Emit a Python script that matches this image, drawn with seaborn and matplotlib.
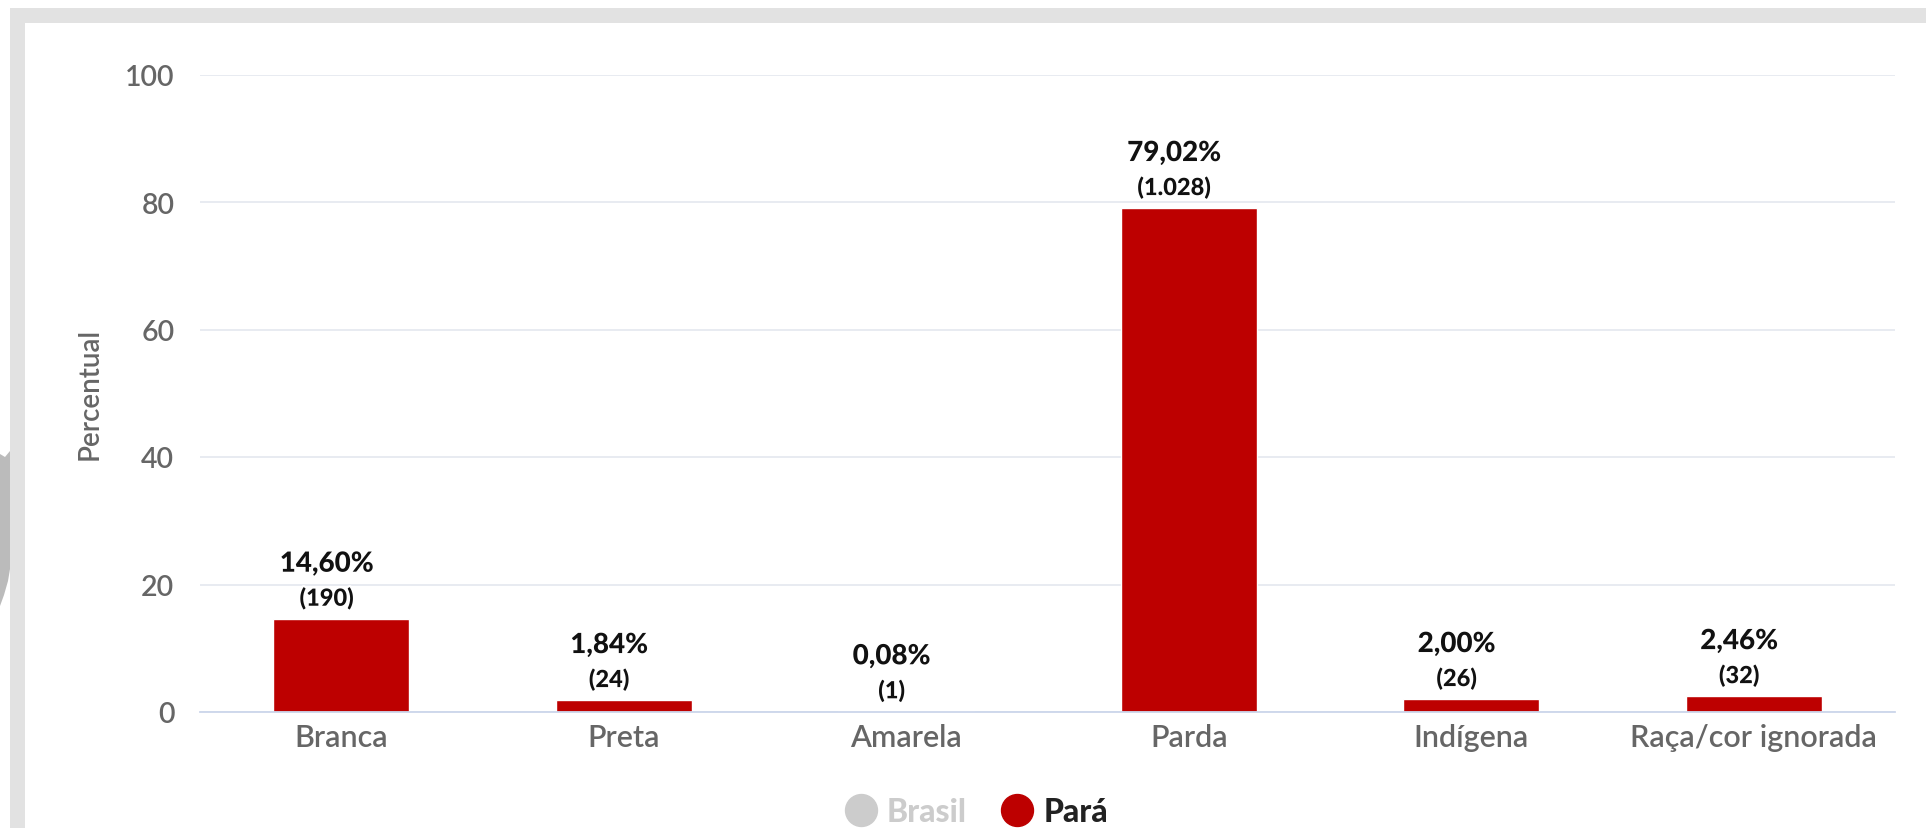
import numpy as np
import matplotlib
matplotlib.use("Agg")
import matplotlib.pyplot as plt
import matplotlib.patheffects as pe
from matplotlib.lines import Line2D
from matplotlib.patches import Rectangle, Polygon
import seaborn as sns

# Distribuição por raça/cor – Pará
categorias = ["Branca", "Preta", "Amarela", "Parda", "Indígena", "Raça/cor ignorada"]
percentuais = [14.60, 1.84, 0.08, 79.02, 2.00, 2.46]
contagens = [190, 24, 1, 1028, 26, 32]
y_ticks = [0, 20, 40, 60, 80, 100]
series_legenda = ["Brasil", "Pará"]

COR_PARA = "#bd0000"
COR_BRASIL = "#cccccc"
COR_TEXTO = "#666666"
COR_GRADE = "#e6e9f0"
COR_EIXO = "#ccd6eb"

sns.set_theme(style="white")
plt.rcParams["font.family"] = ["Lato", "DejaVu Sans"]

W, H = 1926, 829
fig = plt.figure(figsize=(W / 100, H / 100), dpi=100)
fig.patch.set_facecolor("white")

# moldura cinza clara (topo e lateral esquerda)
fig.add_artist(Polygon(
    [(0 / W, 1 - 455 / H), (0 / W, 1 - 607 / H), (4 / W, 1 - 596 / H),
     (8 / W, 1 - 582 / H), (10 / W, 1 - 570 / H), (10 / W, 1 - 452 / H),
     (5 / W, 1 - 458 / H)],
    closed=True, transform=fig.transFigure, facecolor="#bbbbbb",
    edgecolor="none", zorder=0))
fig.add_artist(Rectangle((10 / W, 1 - 24 / H), 1 - 10 / W, 15 / H,
                         transform=fig.transFigure, facecolor="#e2e2e2",
                         edgecolor="none", zorder=0))
fig.add_artist(Rectangle((10 / W, 0), 15 / W, 1 - 9 / H,
                         transform=fig.transFigure, facecolor="#e2e2e2",
                         edgecolor="none", zorder=0))

ax = fig.add_axes([200 / W, (H - 713) / H, 1695 / W, (713 - 75.5) / H])
ax.set_facecolor("none")

sns.barplot(x=categorias, y=percentuais, color=COR_PARA, width=0.48,
            saturation=1, ax=ax, zorder=3)

ax.set_xlim(-0.5, len(categorias) - 0.5)
ax.set_ylim(0, 100)
ax.set_yticks(y_ticks)
ax.set_yticklabels([str(t) for t in y_ticks])
ax.yaxis.grid(True, color=COR_GRADE, linewidth=1.3)
ax.set_axisbelow(True)

for lado in ["top", "right", "left"]:
    ax.spines[lado].set_visible(False)
ax.spines["bottom"].set_color(COR_EIXO)
ax.spines["bottom"].set_linewidth(1.3)
ax.spines["bottom"].set_zorder(4)

ax.tick_params(axis="y", length=11.5, width=1.3, color=COR_EIXO,
               labelsize=20.5, labelcolor=COR_TEXTO, pad=7)
ax.tick_params(axis="x", which="major", length=0, labelsize=22,
               labelcolor=COR_TEXTO, pad=8)
ax.set_xticks(np.arange(-0.5, len(categorias), 1), minor=True)
ax.tick_params(axis="x", which="minor", length=11.5, width=1.3,
               color=COR_EIXO)
for lbl in ax.get_xticklabels() + ax.get_yticklabels():
    lbl.set_fontweight(600)

ax.set_xlabel("")
ax.set_ylabel("Percentual", fontsize=20, color=COR_TEXTO, labelpad=16,
              fontweight=600)

# rótulos de valor (percentual e número absoluto) acima de cada barra
contorno = [pe.withStroke(linewidth=3, foreground="white")]
for i, (p, n) in enumerate(zip(percentuais, contagens)):
    txt_p = f"{p:.2f}".replace(".", ",") + "%"
    txt_n = "(" + f"{n:,}".replace(",", ".") + ")"
    ax.annotate(txt_p, (i, p), xytext=(-10.5, 34), textcoords="offset points",
                ha="center", va="baseline", fontsize=20, fontweight=900,
                color="#111111", path_effects=contorno, zorder=5)
    ax.annotate(txt_n, (i, p), xytext=(-10.5, 9.5), textcoords="offset points",
                ha="center", va="baseline", fontsize=17, fontweight=900,
                color="#111111", path_effects=contorno, zorder=5)

handles = [
    Line2D([], [], marker="o", linestyle="none", markersize=23,
           markerfacecolor=COR_BRASIL, markeredgecolor=COR_BRASIL),
    Line2D([], [], marker="o", linestyle="none", markersize=23,
           markerfacecolor=COR_PARA, markeredgecolor=COR_PARA),
]
leg = fig.legend(handles, series_legenda, loc="center",
                 bbox_to_anchor=(977 / W, 16 / H), ncol=2, frameon=False,
                 prop={"size": 23, "weight": 900}, handlelength=0.95,
                 handletextpad=0.33, columnspacing=1.1, borderpad=0,
                 borderaxespad=0)
for t, c in zip(leg.get_texts(), [COR_BRASIL, "#222222"]):
    t.set_color(c)

fig.savefig("out.png", dpi=100, facecolor="white")
